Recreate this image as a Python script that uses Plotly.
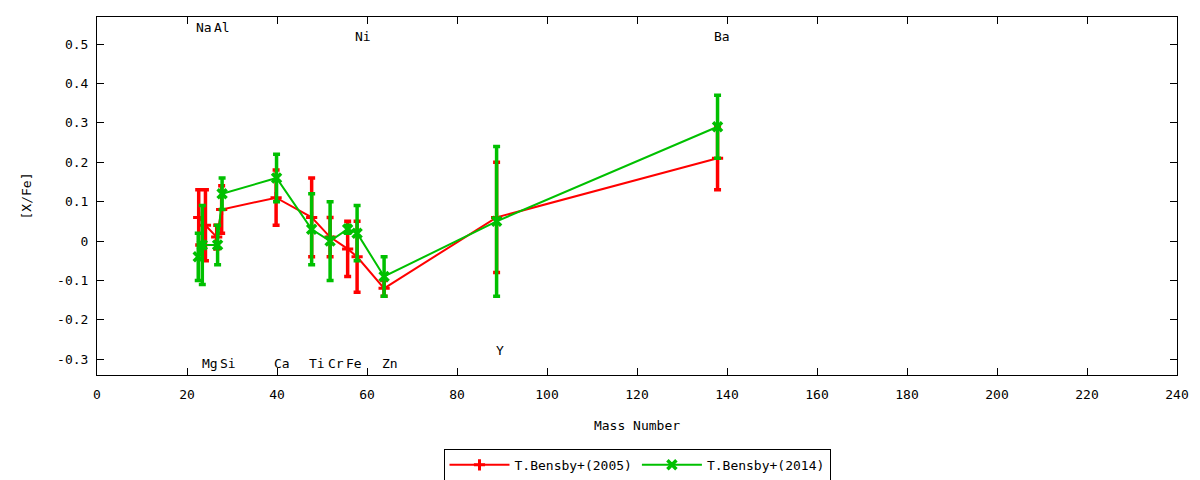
import plotly.graph_objects as go

# === DATA ===
# T.Bensby+(2005)
mass_2005 = [22.6, 24.1, 26.6, 27.7, 39.8, 47.7, 51.8, 55.7, 57.8, 63.8, 88.8, 137.9]
xfe_2005 = [0.06, 0.04, 0.01, 0.08, 0.11, 0.06, 0.01, -0.02, -0.04, -0.12, 0.06, 0.21]
err_2005 = [0.07, 0.09, 0.03, 0.06, 0.07, 0.10, 0.05, 0.07, 0.09, 0.02, 0.14, 0.08]

# T.Bensby+(2014)
mass_2014 = [22.5, 23.4, 26.8, 27.8, 39.9, 47.7, 51.8, 55.7, 57.8, 63.8, 88.8, 137.9]
xfe_2014 = [-0.04, -0.01, -0.01, 0.12, 0.16, 0.03, 0.00, 0.03, 0.02, -0.09, 0.05, 0.29]
err_2014 = [0.06, 0.10, 0.05, 0.04, 0.06, 0.09, 0.10, 0.01, 0.07, 0.05, 0.19, 0.08]

# element labels
elem_names = ['Na', 'Al', 'Ni', 'Ba', 'Mg', 'Si', 'Ca', 'Ti', 'Cr', 'Fe', 'Zn', 'Y']
elem_x = [23.8, 27.8, 59.1, 138.9, 25.1, 29.0, 41.0, 48.9, 53.1, 57.2, 65.0, 89.6]
elem_y = [0.543, 0.543, 0.518, 0.518, -0.31, -0.31, -0.31, -0.31, -0.31, -0.31, -0.31, -0.277]

x_ticks = list(range(0, 241, 20))
y_ticks = [-0.3, -0.2, -0.1, 0, 0.1, 0.2, 0.3, 0.4, 0.5]
y_ticktext = ['-0.3', '-0.2', '-0.1', '0', '0.1', '0.2', '0.3', '0.4', '0.5']

FONT = 'DejaVu Sans Mono'
RED = '#ff0000'
GREEN = '#00c000'

fig = go.Figure()

fig.add_trace(go.Scatter(
    x=mass_2005, y=xfe_2005,
    mode='lines+markers',
    name='T.Bensby+(2005)',
    line=dict(color=RED, width=2),
    marker=dict(symbol='cross-thin-open', size=8, color=RED,
                line=dict(color=RED, width=3)),
    error_y=dict(type='data', array=err_2005, visible=True,
                 color=RED, thickness=3.5, width=3.5),
))

fig.add_trace(go.Scatter(
    x=mass_2014, y=xfe_2014,
    mode='lines+markers',
    name='T.Bensby+(2014)',
    line=dict(color=GREEN, width=2),
    marker=dict(symbol='x-thin-open', size=9, color=GREEN,
                line=dict(color=GREEN, width=3.5)),
    error_y=dict(type='data', array=err_2014, visible=True,
                 color=GREEN, thickness=3.5, width=3.5),
))

for name, x, y in zip(elem_names, elem_x, elem_y):
    fig.add_annotation(x=x, y=y, text=name, showarrow=False,
                       xref='x', yref='y',
                       font=dict(family=FONT, size=13, color='black'))

axis_common = dict(
    showgrid=False, zeroline=False,
    showline=True, linecolor='black', linewidth=1, mirror='ticks',
    ticks='inside', ticklen=7, tickcolor='black', tickwidth=1,
    tickfont=dict(family=FONT, size=13, color='black'),
)

fig.update_xaxes(range=[0, 240], tickvals=x_ticks, ticklabelstandoff=7,
                 title=dict(text='Mass Number', standoff=20,
                            font=dict(family=FONT, size=13, color='black')),
                 **axis_common)
fig.update_yaxes(range=[-0.34, 0.5686], tickvals=y_ticks, ticktext=y_ticktext,
                 ticklabelstandoff=5,
                 title=dict(text='[X/Fe]', standoff=22,
                            font=dict(family=FONT, size=13, color='black')),
                 **axis_common)

# page body has an 8px margin, so the figure is sized to fit the window
fig.update_layout(
    width=1192, height=472,
    margin=dict(l=89, r=23, t=9, b=105),
    plot_bgcolor='white', paper_bgcolor='white',
    font=dict(family=FONT, size=13, color='black'),
    showlegend=True,
    legend=dict(orientation='h', x=0.5, xanchor='center',
                yref='container', y=0.032, yanchor='middle',
                bordercolor='black', borderwidth=1,
                font=dict(family=FONT, size=13, color='black'),
                itemwidth=60),
)

fig.write_html('out.html')
